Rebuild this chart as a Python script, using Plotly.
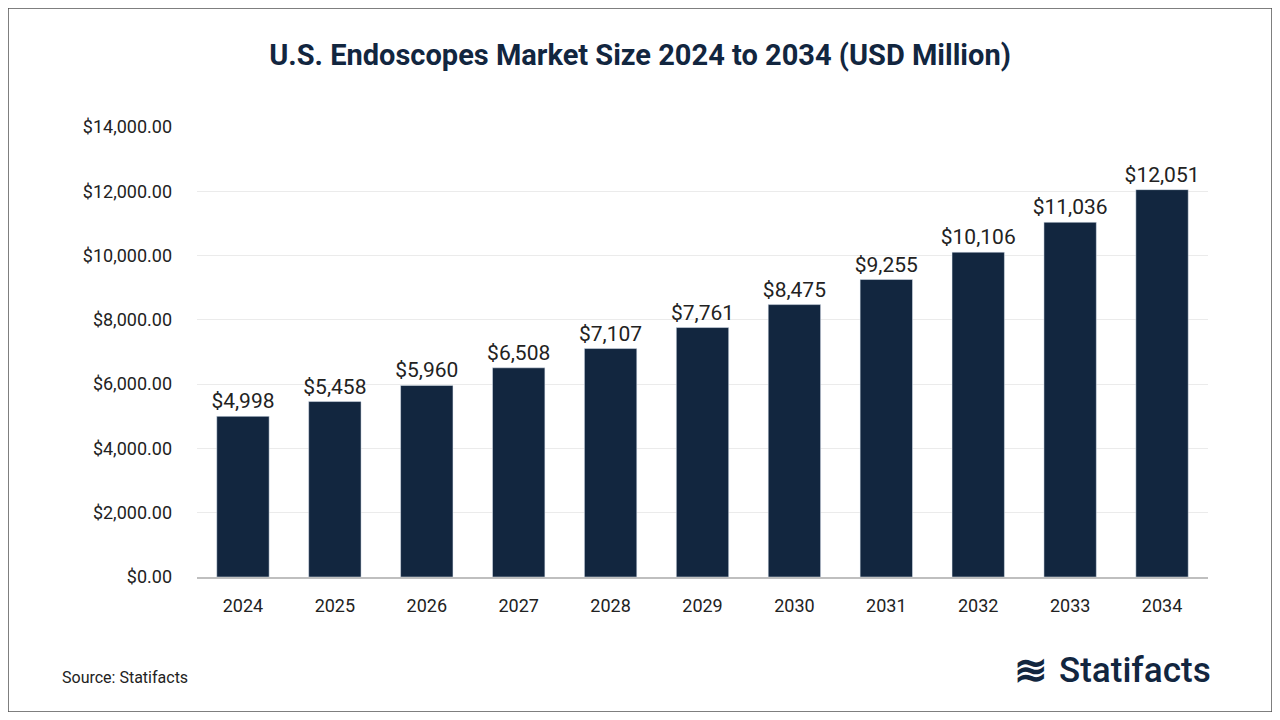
import plotly.graph_objects as go

years = ["2024", "2025", "2026", "2027", "2028", "2029", "2030", "2031", "2032", "2033", "2034"]
market_size = [4998, 5458, 5960, 6508, 7107, 7761, 8475, 9255, 10106, 11036, 12051]
tick_values = [0, 2000, 4000, 6000, 8000, 10000, 12000, 14000]

bar_color = "#12263f"

fig = go.Figure(
    go.Bar(
        x=years,
        y=market_size,
        marker={"color": bar_color},
        width=0.57,
        text=[f"${v:,}" for v in market_size],
        textposition="outside",
        textfont={"size": 21, "color": "#222222"},
        cliponaxis=False,
    )
)

# page has an 8px body margin, so the figure is laid out 8px in from the window edge
W, H = 1264, 704
L, R, T, B = 189, 64, 119, 135
pw, ph = W - L - R, H - T - B


def px(x):
    return (x - 8 - L) / pw


def py(y):
    return (H - B - (y - 8)) / ph


fig.update_layout(
    width=W,
    height=H,
    paper_bgcolor="white",
    plot_bgcolor="white",
    margin={"l": L, "r": R, "t": T, "b": B},
    font={"family": "Roboto, Arial, sans-serif", "color": "#222222"},
    title={
        "text": "<b>U.S. Endoscopes Market Size 2024 to 2034 (USD Million)</b>",
        "x": 0.5,
        "xanchor": "center",
        "y": 1 - 47 / H,
        "yanchor": "middle",
        "font": {"size": 29, "color": "#12263f"},
    },
    showlegend=False,
    bargap=0.43,
    uniformtext={"minsize": 21, "mode": "show"},
)

fig.update_yaxes(
    range=[0, 14000],
    tickvals=tick_values,
    ticktext=[f"${v:,.2f}" for v in tick_values],
    tickfont={"size": 18},
    gridcolor="#ebebeb",
    zeroline=False,
    showline=False,
    ticks="",
    ticklabelstandoff=24,
)
fig.update_xaxes(
    tickfont={"size": 18},
    showline=True,
    linecolor="#bfbfbf",
    linewidth=1.5,
    ticks="",
    ticklabelstandoff=12,
)

fig.add_shape(
    type="rect", xref="paper", yref="paper",
    x0=-L / pw, x1=1 + R / pw, y0=-B / ph, y1=1 + T / ph,
    line={"color": "#555555", "width": 1.5},
)

fig.add_annotation(
    text="Source: Statifacts", xref="paper", yref="paper",
    x=px(60), y=py(677), xanchor="left", yanchor="middle",
    showarrow=False, font={"size": 16, "color": "#222222"},
)
fig.add_annotation(
    text="<b>≋</b>", xref="paper", yref="paper",
    x=px(1050), y=py(670), xanchor="right", yanchor="middle",
    showarrow=False, font={"size": 40, "color": "#12263f"},
)
fig.add_annotation(
    text="Statifacts", xref="paper", yref="paper",
    x=px(1213), y=py(670), xanchor="right", yanchor="middle",
    showarrow=False, font={"size": 35, "color": "#12263f", "family": "Roboto Medium, Roboto, Arial"},
)

fig.write_html("out.html")
